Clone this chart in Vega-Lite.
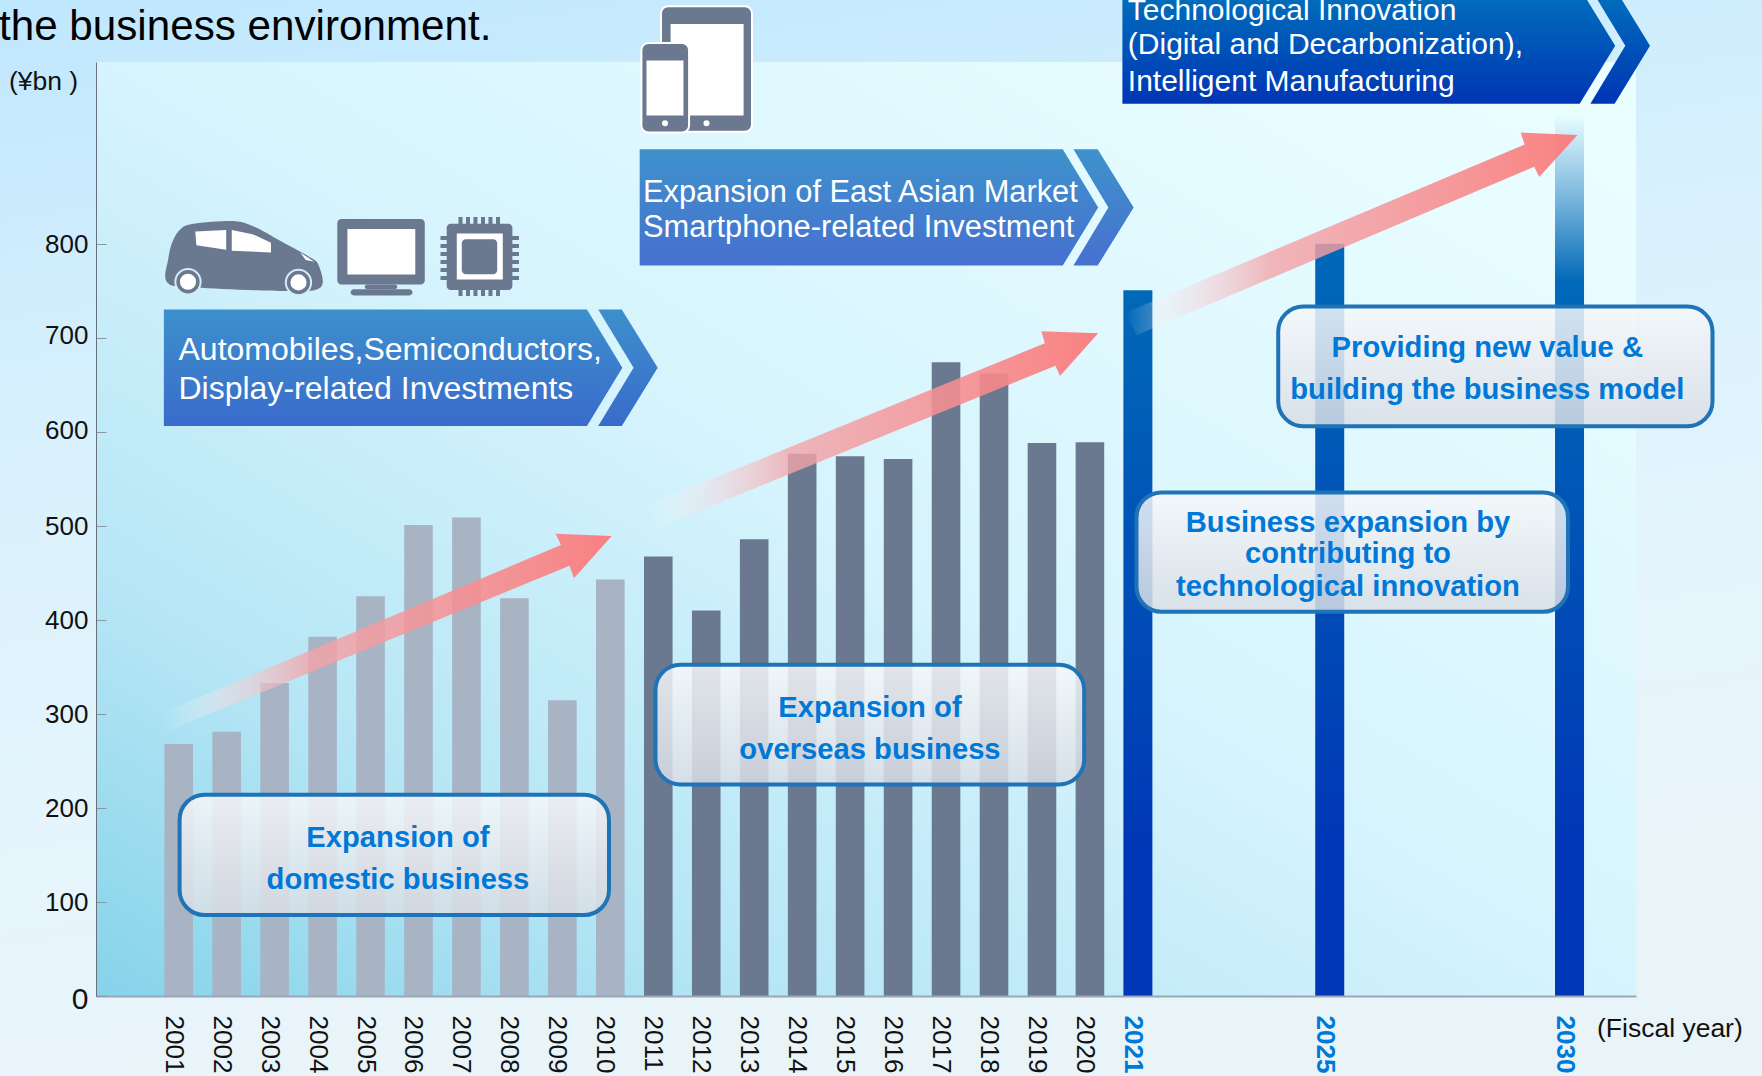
{"$schema":"https://vega.github.io/schema/vega-lite/v6.json","width":1540,"height":934,"autosize":{"type":"none"},"padding":{"left":96,"top":62,"right":126,"bottom":80},
"datasets":{
"outer":[{"x":1997.274,"x2":2034.013,"y":1059.2,"y2":-85.1}],
"panel":[{"x":1999.276,"x2":2031.386,"y":993.3,"y2":0}],
"past":[{"x":2001,"y":268},{"x":2002,"y":281},{"x":2003,"y":333},{"x":2004,"y":382},{"x":2005,"y":425},{"x":2006,"y":501},{"x":2007,"y":509},{"x":2008,"y":423},{"x":2009,"y":314.5},{"x":2010,"y":443}],
"recent":[{"x":2011,"y":467.5},{"x":2012,"y":410},{"x":2013,"y":485.7},{"x":2014,"y":576.6},{"x":2015,"y":574},{"x":2016,"y":571},{"x":2017,"y":674},{"x":2018,"y":662},{"x":2019,"y":588},{"x":2020,"y":589}],
"plan":[{"x":2021,"y":750.6},{"x":2025,"y":800}],
"plan2030":[{"x":2030,"y":938}],
"chev1":[{"id":"a","i":0,"x":2000.691,"y":730},{"id":"a","i":1,"x":2009.513,"y":730},{"id":"a","i":2,"x":2010.251,"y":668.1},{"id":"a","i":3,"x":2009.513,"y":606.2},{"id":"a","i":4,"x":2000.691,"y":606.2},{"id":"b","i":0,"x":2009.747,"y":730},{"id":"b","i":1,"x":2010.239,"y":730},{"id":"b","i":2,"x":2010.988,"y":668.1},{"id":"b","i":3,"x":2010.239,"y":606.2},{"id":"b","i":4,"x":2009.747,"y":606.2},{"id":"b","i":5,"x":2010.485,"y":668.1}],
"chev2":[{"id":"a","i":0,"x":2010.612,"y":900.4},{"id":"a","i":1,"x":2019.434,"y":900.4},{"id":"a","i":2,"x":2020.172,"y":838.5},{"id":"a","i":3,"x":2019.434,"y":776.9},{"id":"a","i":4,"x":2010.612,"y":776.9},{"id":"b","i":0,"x":2019.657,"y":900.4},{"id":"b","i":1,"x":2020.162,"y":900.4},{"id":"b","i":2,"x":2020.912,"y":838.5},{"id":"b","i":3,"x":2020.162,"y":776.9},{"id":"b","i":4,"x":2019.657,"y":776.9},{"id":"b","i":5,"x":2020.385,"y":838.5}],
"chev3":[{"id":"a","i":0,"x":2020.677,"y":1072},{"id":"a","i":1,"x":2030.212,"y":1072},{"id":"a","i":2,"x":2030.952,"y":1010.5},{"id":"a","i":3,"x":2030.212,"y":948.9},{"id":"a","i":4,"x":2020.677,"y":948.9},{"id":"b","i":0,"x":2030.435,"y":1072},{"id":"b","i":1,"x":2030.94,"y":1072},{"id":"b","i":2,"x":2031.678,"y":1010.5},{"id":"b","i":3,"x":2030.94,"y":948.9},{"id":"b","i":4,"x":2030.435,"y":948.9},{"id":"b","i":5,"x":2031.163,"y":1010.5}],
"arrows":[{"id":"a1","i":0,"x":2000.668,"y":301.4},{"id":"a1","i":1,"x":2008.971,"y":479.6},{"id":"a1","i":2,"x":2008.859,"y":491.6},{"id":"a1","i":3,"x":2010.028,"y":489.2},{"id":"a1","i":4,"x":2009.242,"y":444.2},{"id":"a1","i":5,"x":2009.151,"y":457.7},{"id":"a1","i":6,"x":2000.668,"y":279.7},
{"id":"a2","i":0,"x":2010.744,"y":521.4},{"id":"a2","i":1,"x":2019.059,"y":694.1},{"id":"a2","i":2,"x":2018.988,"y":706.9},{"id":"a2","i":3,"x":2020.172,"y":704.8},{"id":"a2","i":4,"x":2019.376,"y":659.4},{"id":"a2","i":5,"x":2019.282,"y":670.3},{"id":"a2","i":6,"x":2010.973,"y":497.7},
{"id":"a3","i":0,"x":2020.731,"y":726.4},{"id":"a3","i":1,"x":2029.063,"y":905.5},{"id":"a3","i":2,"x":2028.982,"y":918.2},{"id":"a3","i":3,"x":2030.166,"y":915.7},{"id":"a3","i":4,"x":2029.368,"y":871},{"id":"a3","i":5,"x":2029.263,"y":881.9},{"id":"a3","i":6,"x":2020.981,"y":703}],
"boxes":[{"x":2001.019,"x2":2009.972,"y":214.1,"y2":86.1},{"x":2010.942,"x2":2019.88,"y":352.2,"y2":225},{"x":2020.971,"x2":2029.968,"y":535.6,"y2":408.6},{"x":2023.926,"x2":2032.981,"y":733.3,"y2":605.9}],
"carBody":[{"i":0,"x":2000.76,"y":758.9},{"i":1,"x":2000.785,"y":784.5},{"i":2,"x":2000.877,"y":802.9},{"i":3,"x":2001.042,"y":815.7},{"i":4,"x":2001.311,"y":821.2},{"i":5,"x":2002.07,"y":824.1},{"i":6,"x":2002.422,"y":821.2},{"i":7,"x":2002.772,"y":813.1},{"i":8,"x":2003.125,"y":802.9},{"i":9,"x":2003.709,"y":786.5},{"i":10,"x":2003.919,"y":777.2},{"i":11,"x":2003.955,"y":753.5},{"i":12,"x":2003.241,"y":749.8},{"i":13,"x":2001.369,"y":753.5}],
"carGlass":[{"id":"l","i":0,"x":2001.346,"y":813.1},{"id":"l","i":1,"x":2001.99,"y":814.6},{"id":"l","i":2,"x":2001.99,"y":793.7},{"id":"l","i":3,"x":2001.369,"y":798.5},{"id":"r","i":0,"x":2002.107,"y":814.6},{"id":"r","i":1,"x":2002.539,"y":810.2},{"id":"r","i":2,"x":2002.925,"y":801},{"id":"r","i":3,"x":2002.925,"y":790.8},{"id":"r","i":4,"x":2002.107,"y":792.6},{"id":"h","i":0,"x":2003.533,"y":790.8},{"id":"h","i":1,"x":2003.827,"y":780.9},{"id":"h","i":2,"x":2003.65,"y":782.7}],
"wheels":[{"x":2001.194,"y":759.6},{"x":2003.498,"y":758.9}],
"pins":[{"x":2006.876,"x2":2006.876,"y":828.5,"y2":744.4},{"x":2007.032,"x2":2007.032,"y":828.5,"y2":744.4},{"x":2007.188,"x2":2007.188,"y":828.5,"y2":744.4},{"x":2007.345,"x2":2007.345,"y":828.5,"y2":744.4},{"x":2007.501,"x2":2007.501,"y":828.5,"y2":744.4},{"x":2007.658,"x2":2007.658,"y":828.5,"y2":744.4},{"x":2006.459,"x2":2008.096,"y":806.1,"y2":806.1},{"x":2006.459,"x2":2008.096,"y":797.6,"y2":797.6},{"x":2006.459,"x2":2008.096,"y":789.1,"y2":789.1},{"x":2006.459,"x2":2008.096,"y":780.6,"y2":780.6},{"x":2006.459,"x2":2008.096,"y":772.1,"y2":772.1},{"x":2006.459,"x2":2008.096,"y":763.6,"y2":763.6}],
"iconDark":[{"x":2004.307,"x2":2006.131,"y":826.3,"y2":756.8},{"x":2004.88,"x2":2005.558,"y":756.8,"y2":751.6},{"x":2004.586,"x2":2005.875,"y":751.6,"y2":745},{"x":2006.588,"x2":2007.958,"y":821.2,"y2":750.8}],
"iconWhite":[{"x":2004.518,"x2":2005.933,"y":815.7,"y2":767.3},{"x":2006.799,"x2":2007.758,"y":810.9,"y2":761.9}],
"chipCore":[{"x":2006.903,"x2":2007.641,"y":804.7,"y2":767.7}],
"deviceBody":[{"x":2011.056,"x2":2012.954,"y":1052.6,"y2":919}],
"tabletScreen":[{"x":2011.257,"x2":2012.779,"y":1033.6,"y2":936.5}],
"phoneBody":[{"x":2010.648,"x2":2011.642,"y":1013.5,"y2":918.2}],
"phoneScreen":[{"x":2010.754,"x2":2011.525,"y":994.8,"y2":936.5}],
"deviceButtons":[{"x":2012.005,"y":928.1},{"x":2011.14,"y":928.1}],
"heading":[{"x":1997.253,"y":1017.1,"t":"the business environment."}],
"unit":[{"x":1997.46,"y":963,"t":"(¥bn )"},{"x":2030.573,"y":-44,"t":"(Fiscal year)"}],
"white32":[{"x":2000.996,"y":676.5,"t":"Automobiles,Semiconductors,"},{"x":2000.996,"y":635.3,"t":"Display-related Investments"}],
"white308":[{"x":2010.68,"y":844.1,"t":"Expansion of East Asian Market"},{"x":2010.68,"y":806.9,"t":"Smartphone-related Investment"}],
"white30":[{"x":2020.79,"y":1038,"t":"Technological Innovation"},{"x":2020.79,"y":1001.8,"t":"(Digital and Decarbonization),"},{"x":2020.79,"y":962.5,"t":"Intelligent Manufacturing"}],
"blue":[{"x":2005.572,"y":158.6,"t":"Expansion of"},{"x":2005.572,"y":114.2,"t":"domestic business"},{"x":2015.414,"y":297.1,"t":"Expansion of"},{"x":2015.414,"y":252,"t":"overseas business"},{"x":2025.381,"y":493.6,"t":"Business expansion by"},{"x":2025.381,"y":460.1,"t":"contributing to"},{"x":2025.381,"y":425.6,"t":"technological innovation"},{"x":2028.285,"y":680,"t":"Providing new value &"},{"x":2028.285,"y":634.6,"t":"building the business model"}]
},
"encoding":{
"x":{"field":"x","type":"quantitative","title":null,"scale":{"domain":[1999.276,2031.386],"nice":false,"zero":false,"padding":0},
"axis":{"zindex":1,"values":[2001,2002,2003,2004,2005,2006,2007,2008,2009,2010,2011,2012,2013,2014,2015,2016,2017,2018,2019,2020,2021,2025,2030],"format":"d","grid":false,"ticks":false,"labelAngle":90,"labelAlign":"left","labelBaseline":"middle","labelPadding":19,"labelOffset":-5.5,"labelOverlap":false,"labelBound":false,"labelFlush":false,"labelFont":"Liberation Sans","labelFontSize":26,"labelColor":{"condition":{"test":"datum.value>=2021","value":"#0078d7"},"value":"#111111"},"labelFontWeight":{"condition":{"test":"datum.value>=2021","value":"bold"},"value":"normal"},"domainColor":"#9aa7b8","domainWidth":2}},
"y":{"field":"y","type":"quantitative","title":null,"scale":{"domain":[0,993.3],"nice":false,"zero":false},
"axis":{"zindex":1,"values":[0,100,200,300,400,500,600,700,800],"grid":false,"tickSize":-10,"tickColor":"#8797a6","tickWidth":1,"labelPadding":18,"labelOffset":{"condition":[{"test":"datum.value===0","value":3},{"test":"datum.value===700","value":-2},{"test":"datum.value===600","value":-1},{"test":"datum.value===500","value":0.5}],"value":1},"labelOverlap":false,"labelBound":false,"labelFlush":false,"labelFont":"Liberation Sans","labelFontSize":{"condition":{"test":"datum.value===0","value":30},"value":26},"labelColor":"#111111","domainColor":"#66717c","domainWidth":1}}
},
"layer":[
{"data":{"name":"outer"},"mark":{"type":"rect","fill":{"gradient":"linear","x1":0,"y1":0,"x2":0.25,"y2":1,"stops":[{"offset":0,"color":"#bfe7fd"},{"offset":0.35,"color":"#d6f0fd"},{"offset":0.75,"color":"#e6f5fc"},{"offset":1,"color":"#e9f4f8"}]}},"encoding":{"x2":{"field":"x2"},"y2":{"field":"y2"}}},
{"data":{"name":"panel"},"mark":{"type":"rect","fill":{"gradient":"linear","x1":0,"y1":1,"x2":1,"y2":0,"stops":[{"offset":0,"color":"#86d3ea"},{"offset":0.22,"color":"#b6e6f5"},{"offset":0.5,"color":"#d6f4fd"},{"offset":0.8,"color":"#e4fbff"},{"offset":1,"color":"#ecffff"}]}},"encoding":{"x2":{"field":"x2"},"y2":{"field":"y2"}}},
{"data":{"name":"past"},"mark":{"type":"bar","size":28.6,"orient":"vertical","fill":"#a8b3c3"}},
{"data":{"name":"recent"},"mark":{"type":"bar","size":28.6,"orient":"vertical","fill":"#6a7890"}},
{"data":{"name":"plan"},"mark":{"type":"bar","size":29,"orient":"vertical","fill":{"gradient":"linear","x1":0,"y1":0,"x2":0,"y2":1,"stops":[{"offset":0,"color":"#0069b8"},{"offset":0.8,"color":"#0037b6"},{"offset":1,"color":"#0037b6"}]}}},
{"data":{"name":"plan2030"},"mark":{"type":"bar","size":29,"orient":"vertical","fill":{"gradient":"linear","x1":0,"y1":0,"x2":0,"y2":1,"stops":[{"offset":0,"color":"rgba(0,105,184,0)"},{"offset":0.1,"color":"rgba(0,105,184,0.5)"},{"offset":0.19,"color":"#0069b8"},{"offset":0.83,"color":"#0037b6"},{"offset":1,"color":"#0037b6"}]}}},
{"data":{"name":"chev1"},"mark":{"type":"line","interpolate":"linear-closed","strokeWidth":0,"fill":{"gradient":"linear","x1":0,"y1":0,"x2":0,"y2":1,"stops":[{"offset":0,"color":"#3d90cc"},{"offset":1,"color":"#3a6bcb"}]}},"encoding":{"order":{"field":"i"},"detail":{"field":"id"}}},
{"data":{"name":"chev2"},"mark":{"type":"line","interpolate":"linear-closed","strokeWidth":0,"fill":{"gradient":"linear","x1":0,"y1":0,"x2":0,"y2":1,"stops":[{"offset":0,"color":"#3f92cc"},{"offset":1,"color":"#4670cf"}]}},"encoding":{"order":{"field":"i"},"detail":{"field":"id"}}},
{"data":{"name":"chev3"},"mark":{"type":"line","interpolate":"linear-closed","strokeWidth":0,"fill":{"gradient":"linear","x1":0,"y1":0,"x2":0,"y2":1,"stops":[{"offset":0,"color":"#0072bc"},{"offset":1,"color":"#0035b5"}]}},"encoding":{"order":{"field":"i"},"detail":{"field":"id"}}},
{"data":{"name":"arrows"},"mark":{"type":"line","interpolate":"linear-closed","strokeWidth":0,"fill":{"gradient":"linear","x1":0,"y1":0,"x2":1,"y2":0,"stops":[{"offset":0,"color":"rgba(255,255,255,0)"},{"offset":0.12,"color":"rgba(245,225,230,0.45)"},{"offset":0.32,"color":"rgba(243,165,170,0.8)"},{"offset":1,"color":"rgba(251,122,122,0.95)"}]}},"encoding":{"order":{"field":"i"},"detail":{"field":"id"}}},
{"data":{"name":"boxes"},"mark":{"type":"rect","cornerRadius":25,"stroke":"#1f73b7","strokeWidth":4,"fill":{"gradient":"linear","x1":0,"y1":0,"x2":0,"y2":1,"stops":[{"offset":0,"color":"rgba(246,248,250,0.85)"},{"offset":1,"color":"rgba(216,221,229,0.85)"}]}},"encoding":{"x2":{"field":"x2"},"y2":{"field":"y2"}}},
{"data":{"name":"carBody"},"mark":{"type":"line","interpolate":"cardinal-closed","strokeWidth":0,"fill":"#6a7890"},"encoding":{"order":{"field":"i"}}},
{"data":{"name":"carGlass"},"mark":{"type":"line","interpolate":"linear-closed","strokeWidth":0,"fill":"#ffffff"},"encoding":{"order":{"field":"i"},"detail":{"field":"id"}}},
{"data":{"name":"wheels"},"mark":{"type":"point","shape":"circle","filled":true,"size":640,"fill":"#6a7890","stroke":"#d4ecf6","strokeWidth":2,"opacity":1}},
{"data":{"name":"wheels"},"mark":{"type":"point","shape":"circle","filled":true,"size":260,"fill":"#ffffff","opacity":1}},
{"data":{"name":"pins"},"mark":{"type":"rule","stroke":"#6a7890","strokeWidth":4},"encoding":{"x2":{"field":"x2"},"y2":{"field":"y2"}}},
{"data":{"name":"iconDark"},"mark":{"type":"rect","cornerRadius":4,"fill":"#6a7890"},"encoding":{"x2":{"field":"x2"},"y2":{"field":"y2"}}},
{"data":{"name":"iconWhite"},"mark":{"type":"rect","fill":"#ffffff"},"encoding":{"x2":{"field":"x2"},"y2":{"field":"y2"}}},
{"data":{"name":"chipCore"},"mark":{"type":"rect","cornerRadius":4,"fill":"#6a7890"},"encoding":{"x2":{"field":"x2"},"y2":{"field":"y2"}}},
{"data":{"name":"deviceBody"},"mark":{"type":"rect","cornerRadius":7,"fill":"#6a7890","stroke":"#ffffff","strokeWidth":2},"encoding":{"x2":{"field":"x2"},"y2":{"field":"y2"}}},
{"data":{"name":"tabletScreen"},"mark":{"type":"rect","fill":"#ffffff"},"encoding":{"x2":{"field":"x2"},"y2":{"field":"y2"}}},
{"data":{"name":"phoneBody"},"mark":{"type":"rect","cornerRadius":7,"fill":"#6a7890","stroke":"#ffffff","strokeWidth":2},"encoding":{"x2":{"field":"x2"},"y2":{"field":"y2"}}},
{"data":{"name":"phoneScreen"},"mark":{"type":"rect","fill":"#ffffff"},"encoding":{"x2":{"field":"x2"},"y2":{"field":"y2"}}},
{"data":{"name":"deviceButtons"},"mark":{"type":"point","shape":"circle","filled":true,"size":36,"fill":"#ffffff","opacity":1}},
{"data":{"name":"heading"},"mark":{"type":"text","align":"left","baseline":"alphabetic","font":"Liberation Sans","fontSize":42.2,"fill":"#000000"},"encoding":{"text":{"field":"t"}}},
{"data":{"name":"unit"},"mark":{"type":"text","align":"left","baseline":"alphabetic","font":"Liberation Sans","fontSize":26.5,"fill":"#111111"},"encoding":{"text":{"field":"t"}}},
{"data":{"name":"white32"},"mark":{"type":"text","align":"left","baseline":"alphabetic","font":"Liberation Sans","fontSize":32,"fill":"#ffffff"},"encoding":{"text":{"field":"t"}}},
{"data":{"name":"white308"},"mark":{"type":"text","align":"left","baseline":"alphabetic","font":"Liberation Sans","fontSize":30.8,"fill":"#ffffff"},"encoding":{"text":{"field":"t"}}},
{"data":{"name":"white30"},"mark":{"type":"text","align":"left","baseline":"alphabetic","font":"Liberation Sans","fontSize":30,"fill":"#ffffff"},"encoding":{"text":{"field":"t"}}},
{"data":{"name":"blue"},"mark":{"type":"text","align":"center","baseline":"alphabetic","font":"Liberation Sans","fontSize":29.2,"fontWeight":"bold","fill":"#0078d7"},"encoding":{"text":{"field":"t"}}}
]}
